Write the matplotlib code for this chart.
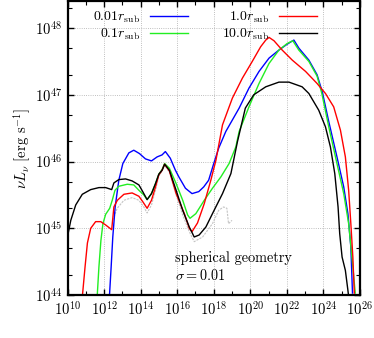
import numpy as np
import matplotlib
matplotlib.use('Agg')
import matplotlib.pyplot as plt
from matplotlib.ticker import FixedLocator, LogFormatterMathtext, NullFormatter, LogLocator

plt.rcParams['font.family'] = ['cmr10', 'DejaVu Serif']
plt.rcParams['mathtext.fontset'] = 'cm'
plt.rcParams['axes.formatter.use_mathtext'] = True
plt.rcParams['font.size'] = 10

# log10(nu), log10(nu L_nu)
x_001 = [12.29, 12.38, 12.47, 12.6, 12.8, 13.02, 13.35, 13.62, 13.93, 14.26, 14.59, 14.9, 15.17, 15.35,
         15.62, 15.9, 16.09, 16.45, 16.81, 17.18, 17.45, 17.72, 18.0, 18.27, 18.66, 19.39, 19.93, 20.48,
         21.03, 21.57, 22.03, 22.39, 22.66, 23.21, 23.66, 23.95, 24.3, 24.75, 25.12, 25.35, 25.51, 25.6]
y_001 = [44.0, 44.42, 44.87, 45.32, 45.72, 45.97, 46.13, 46.17, 46.12, 46.04, 46.01, 46.07, 46.1, 46.15,
         46.05, 45.87, 45.77, 45.6, 45.52, 45.55, 45.62, 45.72, 45.97, 46.2, 46.45, 46.8, 47.1, 47.35,
         47.55, 47.67, 47.76, 47.82, 47.7, 47.52, 47.3, 47.04, 46.6, 46.07, 45.62, 45.22, 44.72, 44.03]

x_01 = [11.62, 11.71, 11.82, 11.93, 12.08, 12.3, 12.44, 12.59, 12.8, 13.26, 13.62, 13.9, 14.17, 14.35,
        14.59, 14.81, 14.99, 15.17, 15.31, 15.57, 15.94, 16.3, 16.57, 16.7, 17.02, 17.48, 17.93, 18.39,
        18.84, 19.21, 19.39, 19.93, 20.48, 21.03, 21.57, 22.03, 22.33, 22.66, 23.21, 23.66, 23.92, 24.3,
        24.75, 25.12, 25.39, 25.57, 25.75]
y_01 = [44.0, 44.42, 44.82, 45.07, 45.21, 45.3, 45.42, 45.57, 45.63, 45.66, 45.65, 45.57, 45.5, 45.43,
        45.52, 45.67, 45.81, 45.88, 45.97, 45.9, 45.67, 45.42, 45.2, 45.15, 45.22, 45.42, 45.6, 45.77,
        45.97, 46.22, 46.45, 46.82, 47.17, 47.47, 47.67, 47.77, 47.81, 47.67, 47.5, 47.28, 47.02, 46.52,
        45.97, 45.52, 45.07, 44.57, 44.03]

x_1 = [10.81, 10.95, 11.08, 11.26, 11.53, 11.81, 12.08, 12.41, 12.53, 12.72, 13.08, 13.53, 13.9, 14.11,
       14.35, 14.59, 14.81, 14.99, 15.17, 15.31, 15.57, 15.94, 16.39, 16.66, 16.81, 17.11, 17.48, 17.84,
       18.12, 18.48, 19.02, 19.57, 20.11, 20.57, 20.85, 21.03, 21.3, 21.75, 22.3, 23.03, 23.66, 24.12,
       24.57, 24.94, 25.21, 25.39, 25.51, 25.62, 25.7]
y_1 = [44.0, 44.42, 44.78, 45.0, 45.1, 45.1, 45.05, 44.98, 45.32, 45.42, 45.51, 45.53, 45.48, 45.4,
       45.3, 45.42, 45.62, 45.8, 45.87, 45.96, 45.86, 45.52, 45.22, 45.0, 44.95, 45.08, 45.37, 45.72,
       46.02, 46.55, 46.95, 47.25, 47.5, 47.72, 47.82, 47.86, 47.81, 47.67, 47.52, 47.35, 47.17, 47.02,
       46.82, 46.47, 46.07, 45.57, 45.07, 44.57, 44.03]

x_10 = [9.95, 10.17, 10.44, 10.8, 11.26, 11.71, 12.08, 12.41, 12.53, 12.8, 13.17, 13.53, 13.9, 14.11,
        14.35, 14.59, 14.81, 14.99, 15.17, 15.31, 15.57, 15.94, 16.3, 16.66, 16.93, 17.2, 17.57, 17.93,
        18.48, 18.94, 19.3, 19.73, 20.19, 20.85, 21.57, 22.12, 22.84, 23.21, 23.75, 24.12, 24.39, 24.63,
        24.81, 24.9, 25.03, 25.21, 25.35, 25.4]
y_10 = [44.82, 45.12, 45.35, 45.51, 45.58, 45.61, 45.61, 45.58, 45.68, 45.73, 45.74, 45.71, 45.65, 45.55,
        45.43, 45.52, 45.67, 45.81, 45.87, 45.96, 45.87, 45.57, 45.27, 45.02, 44.87, 44.9, 45.02, 45.22,
        45.52, 45.82, 46.3, 46.8, 47.0, 47.12, 47.19, 47.19, 47.12, 47.02, 46.77, 46.52, 46.22, 45.82,
        45.32, 44.92, 44.57, 44.37, 44.07, 43.95]

x_grey = [12.47, 12.71, 13.08, 13.53, 13.9, 14.17, 14.35, 14.59, 14.81, 14.99, 15.17, 15.31, 15.57,
          15.94, 16.3, 16.66, 16.93, 17.39, 17.93, 18.27, 18.54, 18.72, 18.81, 19.0]
y_grey = [45.12, 45.3, 45.42, 45.46, 45.42, 45.32, 45.23, 45.35, 45.57, 45.78, 45.86, 45.94, 45.84,
          45.5, 45.2, 44.95, 44.8, 44.87, 45.07, 45.27, 45.32, 45.3, 45.07, 45.12]

fig = plt.figure(figsize=(3.74, 3.38), dpi=100)
ax = fig.add_axes([0.181, 0.127, 0.781, 0.869])

ax.plot(10**np.array(x_grey), 10**np.array(y_grey), color='#c4c4c4', lw=0.8, ls=(0, (2, 1)))
ax.plot(10**np.array(x_001), 10**np.array(y_001), color='#0000ff', lw=1.0, label=r'$0.01r_{\rm sub}$')
ax.plot(10**np.array(x_01), 10**np.array(y_01), color='#22ee22', lw=1.0, label=r'$0.1r_{\rm sub}$')
ax.plot(10**np.array(x_1), 10**np.array(y_1), color='#ff0000', lw=1.0, label=r'$1.0r_{\rm sub}$')
ax.plot(10**np.array(x_10), 10**np.array(y_10), color='black', lw=1.0, label=r'$10.0r_{\rm sub}$')

ax.set_xscale('log')
ax.set_yscale('log')
ax.set_xlim(1e10, 1e26)
ax.set_ylim(1e44, 10**48.4)

ax.xaxis.set_major_locator(FixedLocator(10.0**np.arange(10, 27, 2)))
ax.xaxis.set_minor_locator(FixedLocator(10.0**np.arange(11, 26, 2)))
ax.xaxis.set_major_formatter(LogFormatterMathtext())
ax.xaxis.set_minor_formatter(NullFormatter())
ax.yaxis.set_major_locator(FixedLocator(10.0**np.arange(44, 49)))
ax.yaxis.set_minor_locator(LogLocator(base=10, subs=(2, 5)))
ax.yaxis.set_major_formatter(LogFormatterMathtext())
ax.yaxis.set_minor_formatter(NullFormatter())

ax.tick_params(which='both', direction='in', top=True, right=True, labelsize=10.6)
ax.tick_params(which='major', length=4.5, width=1.0, pad=4)
ax.tick_params(which='minor', length=3, width=0.8)
for s in ax.spines.values():
    s.set_linewidth(1.6)

ax.grid(True, which='major', ls=':', color='#aaaaaa', lw=0.6)
ax.set_axisbelow(True)

ax.set_ylabel(r'$\nu L_\nu$ [erg s$^{-1}$]', fontsize=10.5, labelpad=1)

ax.legend(loc='upper center', bbox_to_anchor=(0.47, 1.0), ncol=2, frameon=False, markerfirst=False,
          handlelength=2.7, handletextpad=0.7, columnspacing=2.5, labelspacing=0.1,
          borderaxespad=0.2, fontsize=10)

ax.text(0.368, 0.126, 'spherical geometry', transform=ax.transAxes, va='center', ha='left', fontsize=10.3)
ax.text(0.368, 0.066, r'$\sigma = 0.01$', transform=ax.transAxes, va='center', ha='left', fontsize=10.3)

fig.savefig('out.png', dpi=100)
